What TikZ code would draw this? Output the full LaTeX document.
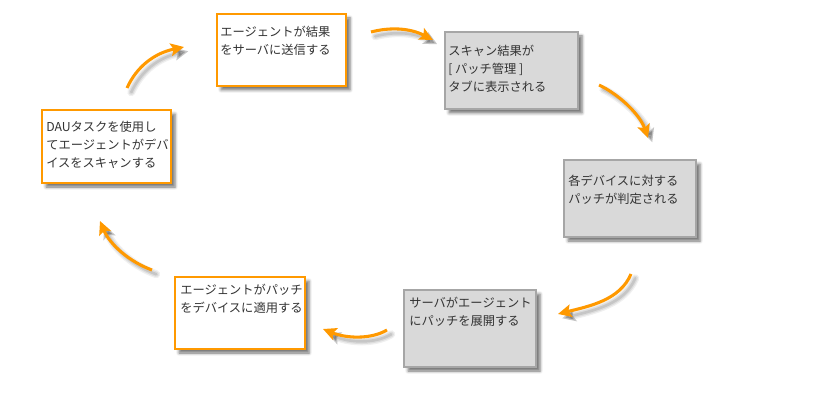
\documentclass[tikz,border=0pt]{standalone}
\usepackage{fontspec}
\setmainfont{Noto Sans CJK JP}
\usetikzlibrary{arrows.meta,shadows.blur}
\definecolor{org}{HTML}{FF9900}
\definecolor{gbord}{HTML}{A6A6A6}
\definecolor{gfill}{HTML}{D9D9D9}
\definecolor{txtc}{HTML}{333333}
\begin{document}
\begin{tikzpicture}[x=0.75pt,y=-0.75pt,
  boxbase/.style={rectangle, line width=1.5pt, inner sep=0pt,
    blur shadow={shadow xshift=3pt, shadow yshift=-3pt, shadow blur radius=2.2pt, shadow opacity=55}},
  obox/.style={boxbase, draw=org, fill=white},
  gbox/.style={boxbase, draw=gbord, fill=gfill},
  txt/.style={anchor=north west, inner sep=0pt, align=left, text=txtc,
    font=\fontsize{9.2}{13.6}\selectfont},
  tipsty/.style={-{Stealth[length=10pt,width=9.5pt,inset=2pt]}},
  arr/.style={draw=org, line width=2.3pt, tipsty,
    preaction={draw=black, opacity=0.06, line width=6pt, tipsty, line cap=round, transform canvas={xshift=3.2pt,yshift=-3.2pt}},
    preaction={draw=black, opacity=0.08, line width=4pt, tipsty, line cap=round, transform canvas={xshift=3.2pt,yshift=-3.2pt}},
    preaction={draw=black, opacity=0.10, line width=2pt, tipsty, line cap=round, transform canvas={xshift=3.2pt,yshift=-3.2pt}}}
]
\useasboundingbox (0,0) rectangle (827,420);

% boxes
\node[obox, minimum width=129*0.75pt, minimum height=73*0.75pt] (b0) at (106.5,146.5) {};
\node[obox, minimum width=129*0.75pt, minimum height=72*0.75pt] (b1) at (281.5,50) {};
\node[gbox, minimum width=133*0.75pt, minimum height=77*0.75pt] (b2) at (511.5,70.5) {};
\node[gbox, minimum width=132*0.75pt, minimum height=77*0.75pt] (b3) at (630,198.5) {};
\node[gbox, minimum width=132*0.75pt, minimum height=77*0.75pt] (b4) at (470,328.5) {};
\node[obox, minimum width=130*0.75pt, minimum height=72*0.75pt] (b5) at (240,313) {};

% texts
\node[txt] (t0) at (46,121) {DAUタスクを使用し\\てエージェントがデバ\\イスをスキャンする};
\node[txt] (t1) at (220,26) {エージェントが結果\\をサーバに送信する};
\node[txt] (t2) at (448,45) {スキャン結果が\\{}[\kern2pt パッチ管理\kern2pt]\\タブに表示される};
\node[txt] (t3) at (568,175) {各デバイスに対する\\パッチが判定される};
\node[txt] (t4) at (409,297) {サーバがエージェント\\にパッチを展開する};
\node[txt] (t5) at (180,284) {エージェントがパッチ\\をデバイスに適用する};

% arrow end points
\coordinate (s1) at (127,88);  \coordinate (e1) at (184,47);
\coordinate (s2) at (371,32);  \coordinate (e2) at (433,40);
\coordinate (s3) at (599,85);  \coordinate (e3) at (648,138);
\coordinate (s4) at (631,274); \coordinate (e4) at (558,314);
\coordinate (s5) at (387,330); \coordinate (e5) at (323,329);
\coordinate (s6) at (152,270); \coordinate (e6) at (100,221);

\draw[arr] (s1) .. controls (137,66) and (155,53) .. (e1);
\draw[arr] (s2) .. controls (390,27) and (410,28) .. (e2);
\draw[arr] (s3) .. controls (620,95) and (640,115) .. (e3);
\draw[arr] (s4) .. controls (620,300) and (590,306) .. (e4);
\draw[arr] (s5) .. controls (370,340) and (345,338) .. (e5);
\draw[arr] (s6) .. controls (130,262) and (110,245) .. (e6);
\end{tikzpicture}
\end{document}
